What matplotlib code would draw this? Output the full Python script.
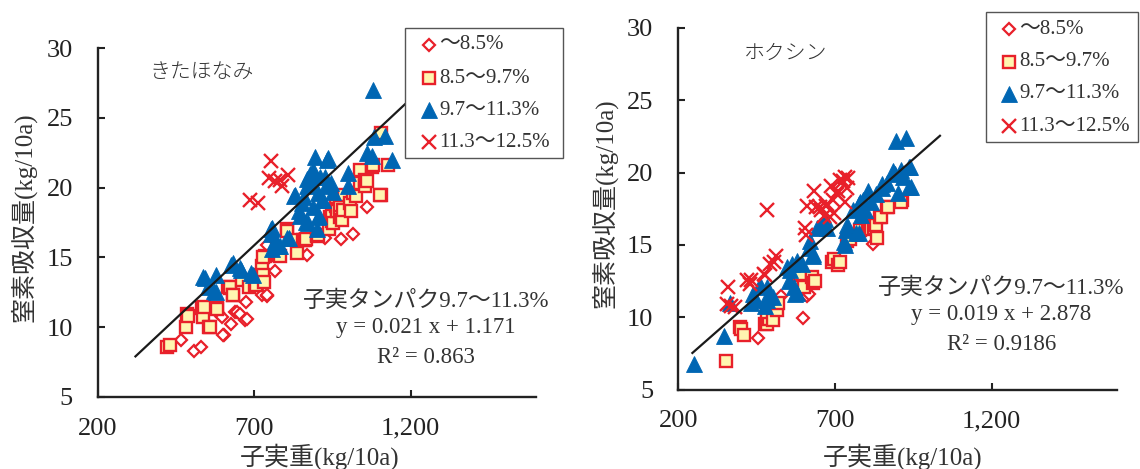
import matplotlib
matplotlib.use("Agg")
import matplotlib.pyplot as plt
from matplotlib.patches import Rectangle
import matplotlib.transforms as mtransforms

FONT = ["Liberation Serif", "Noto Sans CJK JP"]
plt.rcParams["font.family"] = FONT

RED = "#e8202a"
BLUE = "#0066b3"
YELLOW = "#fff5b0"

# ---- axis ticks / labels -------------------------------------------------
x_ticks = [200, 700, 1200]
x_tick_labels = ["200", "700", "1,200"]
y_ticks = [5, 10, 15, 20, 25, 30]
x_label = "子実重(kg/10a)"
y_label = "窒素吸収量(kg/10a)"
legend_labels = ["〜8.5%", "8.5〜9.7%", "9.7〜11.3%", "11.3〜12.5%"]

# ---- きたほなみ ------------------------------------------------------------
kita_lo_x = [465, 507, 528, 603, 601, 626, 585, 596, 638, 644, 655, 670, 676, 674,
             723, 740, 742, 766, 740, 867, 925, 978, 1015, 1059]
kita_lo_y = [9.1, 8.3, 8.6, 9.4, 9.4, 10.2, 11.0, 10.7, 11.1, 11.1, 10.9, 10.5, 10.6, 11.8,
             12.3, 12.2, 12.3, 14.0, 15.9, 15.2, 16.4, 16.3, 16.7, 18.6]
kita_mid_x = [422, 430, 482, 484, 489, 532, 537, 540, 556, 559, 580, 582, 617, 622, 623,
              632, 633, 661, 682, 702, 704, 721, 723, 729, 731, 734, 729, 777, 783, 804,
              806, 835, 836, 857, 862, 864, 899, 900, 905, 939, 942, 947, 947, 952, 962,
              963, 963, 974, 974, 980, 984, 986, 1006, 1009, 1016, 1026, 1038, 1038, 1053,
              1055, 1061, 1075, 1078, 1104, 1102, 1128, 1105]
kita_mid_y = [8.6, 8.7, 10.0, 10.9, 10.8, 11.35, 10.7, 11.4, 10.0, 10.0, 11.35, 11.3, 12.9,
              12.8, 12.9, 12.3, 12.3, 13.4, 12.9, 13.0, 13.0, 13.7, 14.4, 13.7, 13.2, 15.1,
              15.05, 15.2, 15.1, 17.0, 16.9, 15.3, 16.25, 16.25, 16.25, 16.3, 16.5, 16.6,
              16.6, 17.0, 17.9, 17.6, 18.0, 17.45, 18.7, 18.5, 18.3, 18.6, 17.9, 17.7, 18.4,
              19.5, 18.9, 18.3, 19.6, 19.4, 21.3, 20.3, 20.55, 20.1, 20.5, 21.5, 21.65, 19.5,
              19.5, 21.6, 23.9]
kita_hi_x = [537, 543, 578, 571, 553, 577, 625, 633, 655, 658, 690, 697, 753, 754, 756,
             766, 768, 772, 757, 783, 804, 810, 827, 830, 844, 846, 852, 858, 864, 868,
             870, 873, 878, 881, 887, 889, 894, 899, 905, 905, 907, 910, 916, 921, 926,
             930, 934, 937, 945, 951, 1001, 1001, 1061, 1075, 1079, 1084, 1117, 1140]
kita_hi_y = [13.6, 13.5, 13.7, 12.6, 12.9, 12.5, 14.45, 14.6, 14.2, 14.1, 13.9, 13.7, 16.7,
             17.0, 17.1, 16.2, 16.2, 15.8, 15.6, 15.8, 16.4, 16.4, 19.4, 19.5, 18.3, 18.0,
             18.9, 19.3, 17.5, 20.1, 20.6, 17.45, 21.0, 20.2, 21.3, 18.6, 22.2, 17.0, 19.6,
             17.9, 18.0, 20.8, 19.1, 19.1, 20.8, 20.1, 22.0, 22.1, 20.3, 19.7, 21.05, 20.1,
             22.5, 22.25, 27.0, 23.6, 23.7, 22.0]
kita_top_x = [752, 748, 766, 782, 809, 788, 687, 713]
kita_top_y = [21.9, 20.7, 20.45, 20.55, 20.9, 20.1, 19.1, 18.9]
kita_fit = (0.021, 1.171)
kita_fit_x = [320, 1250]

# ---- ホクシン --------------------------------------------------------------
hok_lo_x = [453, 528, 611, 617, 597, 820]
hok_lo_y = [8.6, 11.45, 11.5, 11.6, 9.95, 15.05]
hok_mid_x = [353, 397, 400, 409, 478, 482, 487, 490, 482, 503, 511, 514, 519, 586, 588,
             586, 600, 626, 629, 636, 689, 696, 710, 717, 739, 748, 779, 807, 812, 816,
             823, 828, 832, 834, 844, 847, 866, 870, 913, 912]
hok_mid_y = [7.0, 9.3, 9.2, 8.8, 9.55, 9.5, 10.15, 9.9, 10.35, 9.8, 10.8, 10.5, 11.0, 13.05,
             13.0, 12.1, 12.1, 12.8, 12.4, 12.5, 13.8, 14.0, 13.6, 13.85, 15.3, 15.4, 16.0,
             16.3, 16.3, 16.1, 16.15, 16.5, 16.4, 15.5, 16.95, 16.9, 17.6, 17.6, 18.1, 18.0]
hok_hi_x = [250, 347, 364, 432, 438, 444, 461, 478, 482, 484, 482, 503, 546, 553, 558, 563,
            568, 571, 579, 579, 594, 617, 620, 629, 631, 644, 652, 668, 673, 730, 733, 735,
            739, 758, 768, 778, 776, 779, 783, 790, 796, 806, 816, 830, 850, 849, 866, 886,
            893, 901, 910, 917, 936, 939, 936, 944, 895, 928]
hok_hi_y = [6.8, 8.7, 11.0, 11.0, 11.6, 11.2, 12.2, 10.8, 11.2, 11.4, 12.1, 11.4, 13.5,
            12.5, 13.3, 13.7, 12.1, 11.6, 11.7, 13.9, 13.7, 14.8, 15.3, 14.2, 14.4, 16.2,
            16.3, 16.8, 16.2, 15.2, 15.0, 16.0, 16.4, 17.4, 15.8, 15.8, 17.8, 18.0, 17.1,
            18.1, 17.4, 18.7, 18.0, 18.5, 19.2, 18.9, 19.3, 20.1, 19.9, 18.6, 20.2, 19.7,
            20.4, 20.4, 19.0, 19.0, 22.2, 22.4]
hok_top_x = [359, 356, 368, 380, 420, 428, 432, 482, 478, 472, 493, 504, 512, 603, 606,
             611, 634, 640, 652, 656, 664, 672, 676, 683, 687, 693, 698, 706, 710, 716,
             727, 732, 738, 740, 733]
hok_top_y = [12.1, 10.9, 10.8, 10.7, 12.6, 12.3, 12.6, 17.4, 12.9, 13.0, 13.7, 13.8, 14.2,
             16.2, 15.7, 17.7, 18.7, 17.6, 17.6, 17.4, 17.0, 17.7, 17.8, 16.9, 19.1, 18.1,
             17.2, 18.5, 18.7, 19.5, 19.4, 19.7, 18.9, 19.6, 18.0]
hok_fit = (0.019, 2.878)
hok_fit_x = [245, 1035]

STYLES = [
    dict(marker="D", ms=6.6, mfc="white", mec=RED, mew=1.6),
    dict(marker="s", ms=9.0, mfc=YELLOW, mec=RED, mew=1.7),
    dict(marker="^", ms=11.0, mfc=BLUE, mec=BLUE, mew=0.6),
    dict(marker="x", ms=9.5, mec=RED, mew=1.7),
]

fig = plt.figure(figsize=(11.4, 4.69), dpi=100)
ax_l = fig.add_axes([0.0859, 0.1542, 0.3841, 0.7428])
ax_r = fig.add_axes([0.5950, 0.1693, 0.3848, 0.7712])


def draw_panel(ax, series, fit, fit_x, name, name_xy, ann_x, ann_ys, fit_label, r2_label,
               box, mark_x, text_x, legend_ys):
    ax.set_xlim(200, 1600)
    ax.set_ylim(5, 30)
    for spine in ("top", "right"):
        ax.spines[spine].set_visible(False)
    for spine in ("left", "bottom"):
        ax.spines[spine].set_linewidth(1.7)
        ax.spines[spine].set_color("#222222")
    ax.set_xticks(x_ticks)
    ax.set_xticklabels(x_tick_labels)
    ax.set_yticks(y_ticks)
    ax.tick_params(axis="both", direction="in", length=5, width=1.5, labelsize=19,
                   colors="#222222")
    ax.tick_params(axis="x", pad=15)
    ax.tick_params(axis="y", pad=18)

    for (xs, ys), st in zip(series, STYLES):
        ax.plot(xs, ys, ls="none", clip_on=False, zorder=3, **st)

    a, b = fit
    ax.plot(fit_x, [a * v + b for v in fit_x], color="#1a1a1a", lw=1.6, zorder=4)

    ax.text(name_xy[0], name_xy[1], name, fontsize=15, ha="left", va="center",
            color="#333333", fontweight="light")
    lines = ["子実タンパク9.7〜11.3%", fit_label, r2_label]
    for txt, yv in zip(lines, ann_ys):
        ax.text(ann_x, yv, txt, fontsize=16.5, ha="center", va="center",
                color="#333333", clip_on=False)

    x0, x1, y0, y1 = box
    ax.add_patch(Rectangle((x0, y0), x1 - x0, y1 - y0, facecolor="white",
                           edgecolor="#555555", lw=1.0, clip_on=False, zorder=6))
    for st, lab, yv in zip(STYLES, legend_labels, legend_ys):
        ax.plot([mark_x], [yv], ls="none", clip_on=False, zorder=7, **st)
        ax.text(text_x, yv, lab, fontsize=15, ha="left", va="center",
                color="#333333", zorder=7, clip_on=False)


draw_panel(ax_l,
           [(kita_lo_x, kita_lo_y), (kita_mid_x, kita_mid_y),
            (kita_hi_x, kita_hi_y), (kita_top_x, kita_top_y)],
           kita_fit, kita_fit_x, "きたほなみ", (365, 28.2),
           1249, [11.82, 10.0, 7.82], "y = 0.021 x + 1.171", "R² = 0.863",
           (1182, 1687, 22.13, 31.43), 1258, 1292, [30.24, 27.85, 25.54, 23.25])

draw_panel(ax_r,
           [(hok_lo_x, hok_lo_y), (hok_mid_x, hok_mid_y),
            (hok_hi_x, hok_hi_y), (hok_top_x, hok_top_y)],
           hok_fit, hok_fit_x, "ホクシン", (408, 28.16),
           1231, [12.03, 10.19, 8.1], "y = 0.019 x + 2.878", "R² = 0.9186",
           (1182, 1666, 22.12, 31.08), 1257, 1289, [29.89, 27.66, 25.45, 23.2])

# axis titles
for ax, xc, yl_x, yl_y in ((ax_l, 908, 23.6 / 1140, 1 - 216.7 / 469),
                           (ax_r, 916, 604.5 / 1140, 1 - 203.3 / 469)):
    trans = mtransforms.blended_transform_factory(ax.transData, fig.transFigure)
    ax.text(xc, 1 - 456.7 / 469, x_label, transform=trans, fontsize=18,
            ha="center", va="center", color="#333333", clip_on=False)
    fig.text(yl_x, yl_y, y_label, rotation=90, fontsize=18, ha="center",
             va="center", color="#333333")

fig.savefig("out.png", dpi=100)
